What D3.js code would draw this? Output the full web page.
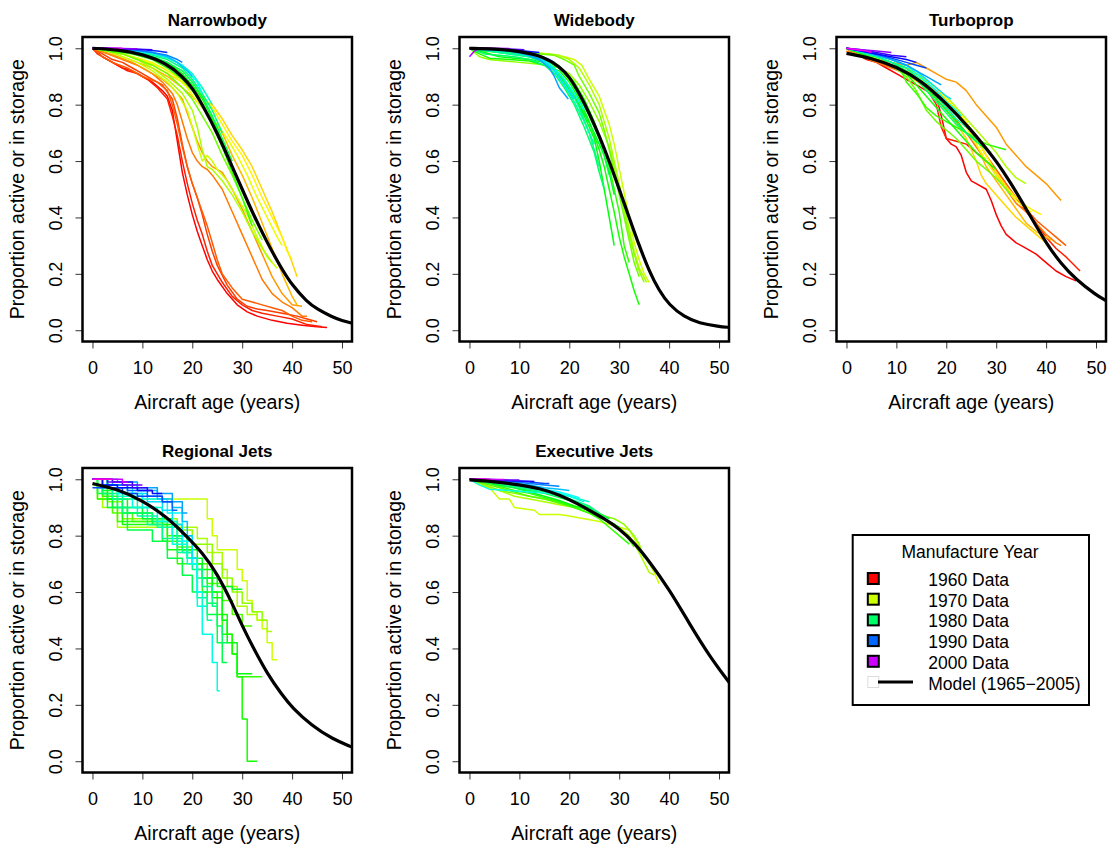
<!DOCTYPE html>
<html>
<head>
<meta charset="utf-8">
<script src="https://cdnjs.cloudflare.com/ajax/libs/d3/7.8.5/d3.min.js"></script>
<style>
	body { margin: 0; background: #fff; }
	svg text { font-family: "Liberation Sans", Arial, Helvetica, sans-serif; fill: #000; }
</style>
</head>
<body>
<svg id="chart" width="1108" height="846"></svg>
<script>
"use strict";

/////////////////////////////////////////////////////////////
// data: [age in years, proportion still active]
var x_ticks = [0, 10, 20, 30, 40, 50];
var y_ticks = [0, 0.2, 0.4, 0.6, 0.8, 1.0];
var panel_titles = ["Narrowbody", "Widebody", "Turboprop", "Regional Jets", "Executive Jets"];
var legend_years = [1960, 1970, 1980, 1990, 2000];
var legend_labels = ["1960 Data", "1970 Data", "1980 Data", "1990 Data", "2000 Data", "Model (1965\u22122005)"];

var narrowbody_curves = [
	{year: 1960, pts: [[0,1],[2,0.97],[4,0.95],[6,0.93],[8,0.92],[10,0.9],[12,0.88],[14,0.85],[15,0.83],[16,0.78],[17,0.67],[18,0.56],[19,0.48],[20,0.41],[21,0.35],[22,0.3],[23,0.25],[24,0.21],[25,0.18],[27,0.13],[29,0.09],[31,0.065],[33,0.05],[36,0.035],[39,0.025],[42,0.018],[45,0.012],[47,0.01]]},
	{year: 1961, pts: [[0,1],[1,0.98],[3,0.96],[5,0.94],[7,0.92],[9,0.91],[11,0.89],[13,0.86],[15,0.82],[16,0.76],[17,0.69],[18,0.6],[19,0.52],[20,0.45],[21,0.39],[22,0.34],[23,0.28],[24,0.23],[26,0.17],[28,0.12],[30,0.09],[32,0.07],[34,0.06],[37,0.05],[40,0.04],[43,0.02],[46,0.012]]},
	{year: 1962, pts: [[0,1],[2,0.98],[4,0.96],[6,0.95],[8,0.93],[10,0.91],[12,0.89],[14,0.87],[16,0.82],[17,0.75],[18,0.66],[19,0.58],[20,0.52],[21,0.47],[22,0.41],[23,0.34],[24,0.28],[25,0.23],[27,0.16],[29,0.11],[31,0.085],[33,0.075],[35,0.07],[38,0.06],[41,0.05],[43,0.04],[45,0.03]]},
	{year: 1963, pts: [[0,1],[2,0.97],[4,0.95],[7,0.93],[10,0.9],[13,0.88],[15,0.85],[16,0.8],[17,0.73],[18,0.65],[19,0.58],[20,0.52],[21,0.47],[22,0.42],[23,0.37],[24,0.31],[25,0.25],[26,0.2],[28,0.15],[30,0.11],[32,0.1],[34,0.09],[36,0.08],[38,0.07],[40,0.05],[42,0.035],[44,0.03]]},
	{year: 1964, pts: [[0,1],[3,0.98],[6,0.96],[9,0.94],[12,0.91],[14,0.88],[16,0.84],[17,0.8],[18,0.74],[19,0.68],[20,0.63],[21,0.6],[22,0.58],[23,0.57],[24,0.55],[26,0.5],[28,0.42],[30,0.34],[32,0.26],[34,0.18],[36,0.13],[38,0.1],[40,0.08],[42,0.05],[43,0.05]]},
	{year: 1965, pts: [[0,1],[2,0.99],[5,0.97],[8,0.95],[11,0.92],[14,0.89],[16,0.86],[18,0.82],[19,0.77],[20,0.72],[21,0.67],[22,0.63],[23,0.6],[24,0.58],[26,0.56],[28,0.5],[30,0.43],[32,0.35],[34,0.27],[36,0.19],[38,0.13],[40,0.09],[42,0.085]]},
	{year: 1966, pts: [[0,1],[3,0.99],[6,0.97],[9,0.95],[12,0.93],[15,0.9],[18,0.86],[20,0.83],[22,0.79],[24,0.75],[26,0.7],[28,0.62],[30,0.55],[32,0.47],[34,0.38],[36,0.29],[38,0.2],[40,0.12],[41,0.09]]},
	{year: 1967, pts: [[0,1],[3,0.99],[6,0.98],[9,0.96],[12,0.94],[15,0.91],[18,0.88],[20,0.85],[22,0.82],[24,0.8],[26,0.75],[28,0.69],[30,0.64],[32,0.58],[34,0.5],[36,0.42],[38,0.33],[40,0.24],[41,0.19]]},
	{year: 1968, pts: [[0,1],[3,0.99],[6,0.98],[10,0.96],[14,0.93],[17,0.9],[20,0.86],[22,0.83],[24,0.79],[26,0.73],[28,0.67],[30,0.62],[32,0.55],[34,0.47],[36,0.4],[38,0.33],[39,0.28],[40,0.25]]},
	{year: 1969, pts: [[0,1],[4,0.99],[8,0.97],[12,0.95],[16,0.91],[19,0.86],[21,0.81],[23,0.77],[25,0.73],[27,0.68],[29,0.62],[31,0.55],[33,0.47],[35,0.4],[37,0.33],[38,0.3]]},
	{year: 1970, pts: [[0,1],[3,0.99],[6,0.97],[9,0.95],[12,0.92],[15,0.88],[17,0.84],[19,0.78],[20,0.72],[21,0.66],[22,0.6],[23,0.62],[24,0.6],[25,0.57],[27,0.53],[29,0.47],[31,0.41],[33,0.33],[35,0.26],[37,0.22]]},
	{year: 1971, pts: [[0,1],[3,0.99],[6,0.98],[9,0.96],[12,0.93],[15,0.89],[18,0.84],[20,0.78],[21,0.72],[22,0.64],[23,0.58],[24,0.57],[26,0.53],[28,0.48],[30,0.42],[32,0.35],[34,0.29],[36,0.24]]},
	{year: 1973, pts: [[0,1],[3,0.99],[6,0.98],[9,0.96],[12,0.94],[15,0.91],[18,0.86],[20,0.82],[22,0.76],[24,0.7],[26,0.62],[28,0.55],[30,0.47],[32,0.39],[34,0.32]]},
	{year: 1975, pts: [[0,1],[4,0.99],[8,0.98],[12,0.96],[15,0.93],[18,0.89],[20,0.85],[22,0.8],[24,0.73],[26,0.65],[28,0.56],[30,0.47],[32,0.37]]},
	{year: 1977, pts: [[0,1],[4,0.995],[8,0.985],[12,0.97],[15,0.95],[18,0.91],[20,0.87],[22,0.82],[24,0.75],[26,0.67],[28,0.58],[30,0.5]]},
	{year: 1979, pts: [[0,1],[4,0.995],[8,0.985],[12,0.97],[15,0.95],[18,0.92],[20,0.88],[22,0.83],[24,0.76],[26,0.68],[28,0.6]]},
	{year: 1981, pts: [[0,1],[4,0.995],[8,0.99],[12,0.975],[15,0.96],[18,0.93],[20,0.89],[22,0.84],[24,0.78],[26,0.7]]},
	{year: 1983, pts: [[0,1],[4,0.998],[8,0.99],[12,0.98],[15,0.965],[18,0.94],[20,0.91],[22,0.86],[24,0.8]]},
	{year: 1985, pts: [[0,1],[4,0.998],[8,0.99],[12,0.985],[15,0.97],[17,0.95],[19,0.92],[21,0.88],[22,0.84]]},
	{year: 1987, pts: [[0,1],[4,0.998],[8,0.993],[12,0.985],[15,0.97],[17,0.95],[19,0.92],[20,0.9]]},
	{year: 1989, pts: [[0,1],[4,0.998],[8,0.995],[12,0.985],[15,0.975],[17,0.96],[18,0.95]]},
	{year: 1992, pts: [[0,1],[5,0.998],[10,0.995],[13,0.99],[15,0.985]]},
	{year: 1995, pts: [[0,1],[4,0.999],[8,0.997],[12,0.995]]},
	{year: 1998, pts: [[0,1],[4,1],[8,0.998],[9,0.998]]},
	{year: 2001, pts: [[0,1],[3,1],[6,1]]}
];
var narrowbody_model = [[0,1],[5,0.995],[10,0.98],[15,0.945],[18,0.9],[20,0.86],[22,0.8],[25,0.7],[28,0.58],[30,0.5],[32,0.42],[35,0.31],[38,0.215],[40,0.16],[43,0.1],[45,0.075],[48,0.047],[50,0.034],[52,0.025]];

var widebody_curves = [
	{year: 1970, pts: [[0,1],[4,0.995],[8,0.99],[12,0.985],[16,0.98],[19,0.97],[21,0.96],[22.5,0.94],[24,0.89],[26,0.83],[28,0.73],[29,0.66],[30.5,0.53],[32,0.4],[33,0.31],[34,0.25],[35,0.2],[36,0.17]]},
	{year: 1971, pts: [[0,1],[4,0.995],[8,0.99],[12,0.985],[16,0.98],[18,0.975],[20,0.96],[22,0.93],[24,0.87],[26,0.8],[27,0.74],[28,0.68],[29,0.6],[30,0.52],[31,0.44],[32,0.36],[33,0.28],[34,0.22],[35.5,0.17]]},
	{year: 1972, pts: [[0,1],[2,0.97],[4,0.96],[7,0.955],[10,0.95],[13,0.945],[16,0.94],[18,0.93],[20,0.91],[22,0.87],[24,0.81],[26,0.74],[28,0.65],[29,0.58],[30,0.5],[31,0.42],[32,0.34],[33,0.27],[34,0.21],[35,0.17]]},
	{year: 1973, pts: [[0,1],[3,0.995],[6,0.99],[10,0.985],[14,0.98],[17,0.975],[19,0.96],[21,0.94],[22,0.9],[24,0.84],[26,0.77],[27,0.71],[28,0.64],[29,0.56],[30,0.48],[31,0.4],[32,0.32],[33,0.24],[34,0.19]]},
	{year: 1975, pts: [[0,1],[3,0.99],[6,0.985],[10,0.98],[14,0.97],[17,0.95],[19,0.92],[21,0.88],[23,0.82],[25,0.74],[27,0.64],[28,0.58],[29,0.5],[30,0.42],[31,0.3],[32,0.24]]},
	{year: 1976, pts: [[0,1],[2,0.98],[4,0.965],[8,0.96],[12,0.955],[15,0.94],[18,0.92],[20,0.88],[22,0.82],[24,0.74],[26,0.64],[27,0.58],[28,0.5],[29,0.42],[30,0.33],[31,0.26],[32,0.2],[33,0.14],[34,0.09]]},
	{year: 1977, pts: [[0,1],[3,0.985],[6,0.97],[9,0.965],[12,0.96],[15,0.95],[17,0.93],[19,0.88],[21,0.83],[23,0.76],[25,0.68],[26,0.6],[27,0.5],[28,0.4],[29,0.3]]},
	{year: 1978, pts: [[0,1],[4,0.99],[8,0.98],[12,0.97],[15,0.95],[17,0.92],[19,0.88],[21,0.83],[23,0.77],[25,0.7],[27,0.62],[28,0.56],[29,0.48]]},
	{year: 1979, pts: [[0,1],[4,0.99],[8,0.985],[12,0.975],[15,0.96],[18,0.93],[20,0.89],[22,0.83],[24,0.76],[26,0.68],[27,0.62],[28,0.55]]},
	{year: 1980, pts: [[0,1],[3,0.98],[6,0.975],[9,0.97],[12,0.96],[15,0.94],[17,0.91],[19,0.86],[21,0.8],[23,0.72],[25,0.63],[26,0.56],[27,0.5]]},
	{year: 1981, pts: [[0,1],[4,0.99],[8,0.985],[12,0.97],[15,0.95],[18,0.91],[20,0.86],[22,0.79],[24,0.7],[25,0.64],[26,0.58]]},
	{year: 1982, pts: [[0,1],[4,0.99],[8,0.98],[12,0.97],[15,0.95],[17,0.92],[19,0.87],[21,0.81],[23,0.74],[25,0.66]]},
	{year: 1984, pts: [[0,1],[4,0.995],[8,0.99],[12,0.975],[15,0.96],[17,0.93],[19,0.89],[21,0.84],[23,0.78]]},
	{year: 1986, pts: [[0,1],[4,0.995],[8,0.99],[12,0.975],[15,0.955],[17,0.92],[19,0.87],[21,0.82]]},
	{year: 1988, pts: [[0,1],[4,0.995],[8,0.99],[11,0.98],[14,0.96],[16,0.93],[17,0.9],[18,0.86],[19.8,0.82]]},
	{year: 1990, pts: [[0,1],[4,0.998],[8,0.995],[12,0.985],[14,0.975],[16,0.96],[17,0.95]]},
	{year: 1993, pts: [[0,1],[4,0.998],[8,0.995],[11,0.99],[14,0.985]]},
	{year: 1996, pts: [[0,1],[4,0.999],[8,0.997],[11,0.995]]},
	{year: 1999, pts: [[0,0.97],[1,0.99],[2,1],[5,1],[8,0.999]]},
	{year: 2002, pts: [[0,1],[3,1],[5,0.998]]}
];
var widebody_model = [[0,1],[5,0.998],[10,0.99],[15,0.97],[18,0.935],[20,0.9],[22,0.84],[24,0.77],[26,0.69],[28,0.6],[30,0.5],[32,0.4],[34,0.3],[36,0.21],[38,0.14],[40,0.09],[43,0.047],[46,0.025],[50,0.013],[52,0.01]];

var turboprop_curves = [
	{year: 1960, pts: [[0,1],[2,0.98],[4,0.96],[6,0.95],[8,0.93],[10,0.91],[12,0.89],[14,0.87],[16,0.85],[18,0.83],[19,0.76],[20,0.68],[21,0.66],[22,0.65],[23,0.62],[24,0.56],[25,0.53],[26,0.52],[28,0.5],[29,0.46],[30,0.41],[31,0.37],[32,0.34],[34,0.31],[36,0.29],[38,0.27],[40,0.24],[42,0.21],[44,0.19],[46,0.175]]},
	{year: 1961, pts: [[0,1],[2,0.98],[5,0.96],[8,0.94],[11,0.92],[14,0.89],[16,0.86],[18,0.8],[19,0.72],[20,0.68],[22,0.67],[24,0.66],[26,0.63],[28,0.6],[30,0.56],[32,0.51],[34,0.47],[36,0.42],[38,0.38],[40,0.33],[42,0.29],[44,0.26],[46.8,0.21]]},
	{year: 1963, pts: [[0,0.99],[3,0.97],[6,0.96],[9,0.94],[12,0.92],[15,0.89],[18,0.84],[21,0.79],[24,0.73],[26,0.68],[28,0.62],[30,0.57],[32,0.52],[34,0.47],[36,0.43],[38,0.39],[40,0.36],[42,0.33],[44,0.3]]},
	{year: 1964, pts: [[0,1],[3,0.97],[6,0.95],[9,0.93],[12,0.91],[15,0.88],[18,0.83],[21,0.77],[24,0.7],[26,0.65],[28,0.6],[30,0.55],[32,0.5],[34,0.45],[36,0.42],[38,0.38],[40,0.34],[42,0.31],[43,0.3]]},
	{year: 1965, pts: [[0,0.99],[3,0.97],[6,0.96],[9,0.95],[12,0.94],[14,0.95],[16,0.93],[18,0.91],[20,0.89],[22,0.88],[24,0.85],[26,0.8],[28,0.76],[30,0.72],[32,0.66],[34,0.62],[36,0.58],[38,0.55],[40,0.52],[42,0.48],[43,0.46]]},
	{year: 1966, pts: [[0,1],[3,0.98],[6,0.96],[9,0.94],[12,0.92],[15,0.89],[18,0.85],[21,0.8],[24,0.73],[26,0.66],[28,0.58],[30,0.53],[32,0.48],[34,0.43],[36,0.38],[38,0.35],[40,0.33],[41,0.32]]},
	{year: 1967, pts: [[0,1],[3,0.98],[6,0.96],[9,0.94],[12,0.91],[15,0.87],[18,0.82],[21,0.76],[24,0.68],[26,0.6],[27,0.55],[28,0.52],[30,0.48],[32,0.44],[34,0.4],[36,0.37],[38,0.34],[40,0.31]]},
	{year: 1968, pts: [[0,1],[3,0.98],[6,0.965],[9,0.95],[12,0.93],[15,0.9],[18,0.86],[21,0.8],[24,0.74],[26,0.68],[28,0.62],[30,0.56],[32,0.51],[34,0.47],[36,0.44],[38,0.42],[39,0.41]]},
	{year: 1969, pts: [[0,1],[3,0.98],[6,0.96],[9,0.94],[12,0.92],[15,0.89],[18,0.84],[21,0.79],[24,0.72],[26,0.66],[28,0.6],[30,0.55],[32,0.5],[34,0.46],[36,0.43],[37,0.42]]},
	{year: 1971, pts: [[0,1],[3,0.98],[6,0.97],[9,0.95],[12,0.93],[15,0.9],[18,0.86],[20,0.83],[22,0.79],[24,0.75],[26,0.71],[28,0.67],[30,0.63],[32,0.58],[34,0.54],[36,0.52]]},
	{year: 1973, pts: [[0,1],[3,0.98],[6,0.96],[9,0.94],[12,0.9],[14,0.85],[16,0.78],[18,0.74],[20,0.71],[22,0.68],[24,0.64],[26,0.6],[28,0.57],[30,0.54],[32,0.5],[33,0.48]]},
	{year: 1975, pts: [[0,1],[3,0.98],[6,0.96],[9,0.94],[11,0.92],[12,0.88],[14,0.84],[16,0.79],[18,0.76],[20,0.74],[22,0.72],[24,0.7],[26,0.68],[28,0.66],[30,0.65],[32,0.64]]},
	{year: 1976, pts: [[0,1],[3,0.98],[6,0.96],[9,0.94],[12,0.91],[14,0.87],[16,0.83],[18,0.79],[20,0.75],[22,0.71],[24,0.67],[26,0.63],[28,0.6],[30,0.57]]},
	{year: 1978, pts: [[0,1],[3,0.985],[6,0.97],[9,0.95],[12,0.93],[14,0.9],[16,0.86],[18,0.82],[20,0.78],[22,0.74],[24,0.7],[26,0.67],[28,0.64],[29,0.63]]},
	{year: 1980, pts: [[0,1],[3,0.985],[6,0.97],[9,0.95],[12,0.92],[14,0.89],[16,0.85],[18,0.81],[20,0.77],[22,0.73],[24,0.7],[26,0.67],[27,0.66]]},
	{year: 1982, pts: [[0,1],[3,0.985],[6,0.97],[9,0.95],[12,0.93],[14,0.9],[16,0.87],[18,0.83],[20,0.79],[22,0.75],[24,0.72],[25,0.71]]},
	{year: 1984, pts: [[0,1],[3,0.99],[6,0.975],[9,0.96],[12,0.94],[14,0.91],[16,0.88],[18,0.85],[20,0.81],[22,0.78],[23,0.76]]},
	{year: 1986, pts: [[0,1],[3,0.99],[6,0.98],[9,0.96],[12,0.94],[14,0.92],[16,0.89],[18,0.86],[20,0.83],[21,0.82]]},
	{year: 1988, pts: [[0,1],[3,0.99],[6,0.975],[9,0.96],[12,0.94],[14,0.92],[16,0.9],[18,0.88],[19,0.87]]},
	{year: 1991, pts: [[0,1],[3,0.99],[6,0.98],[9,0.965],[12,0.95],[14,0.94],[16,0.93]]},
	{year: 1993, pts: [[0,1],[3,0.99],[6,0.98],[9,0.97],[12,0.96],[14,0.95]]},
	{year: 1995, pts: [[0,1],[3,0.995],[6,0.985],[9,0.975],[12,0.97]]},
	{year: 1998, pts: [[0,1],[3,0.995],[6,0.99],[9,0.985]]},
	{year: 2002, pts: [[0,1],[2,0.995],[4,0.99],[5,0.985]]}
];
var turboprop_model = [[0,0.982],[5,0.965],[10,0.935],[15,0.885],[20,0.805],[25,0.71],[28,0.645],[30,0.6],[33,0.52],[35,0.46],[38,0.37],[40,0.31],[43,0.235],[46,0.18],[50,0.125],[52,0.105]];

// regional jet fleets are small, so these are step curves
var regional_curves = [
	{year: 1970, pts: [[0,1],[1,0.93],[23,0.86],[24,0.8],[25,0.75],[29,0.68],[30,0.64],[31,0.57],[32,0.53],[33,0.5],[34,0.47],[35,0.42],[36,0.36],[37,0.36]]},
	{year: 1971, pts: [[0,1],[2,0.9],[5,0.83],[21,0.79],[23,0.74],[26,0.68],[27,0.62],[29,0.55],[31,0.52],[33,0.5],[35,0.46],[36,0.46]]},
	{year: 1972, pts: [[0,0.98],[3,0.92],[6,0.86],[17,0.82],[20,0.77],[24,0.7],[26,0.65],[28,0.6],[30,0.56],[32,0.53],[34,0.5],[35,0.5]]},
	{year: 1974, pts: [[0,1],[2,0.95],[4,0.88],[8,0.85],[15,0.8],[17,0.76],[20,0.7],[23,0.63],[26,0.57],[28,0.52],[30,0.48],[32,0.48]]},
	{year: 1975, pts: [[0,1],[2,0.94],[5,0.85],[14,0.78],[17,0.7],[22,0.6],[25,0.52],[26,0.45],[28,0.38],[29,0.3],[34,0.3]]},
	{year: 1976, pts: [[0,1],[1,0.93],[6,0.84],[15,0.75],[20,0.7],[22,0.65],[24,0.58],[26,0.52],[27,0.45],[28,0.38],[29,0.3],[30,0.15],[31,0],[33,0]]},
	{year: 1977, pts: [[0,1],[3,0.93],[7,0.88],[12,0.84],[18,0.75],[21,0.68],[24,0.6],[26,0.5],[27,0.42],[29,0.31],[32,0.31]]},
	{year: 1978, pts: [[0,1],[2,0.96],[4,0.9],[10,0.86],[16,0.8],[19,0.72],[22,0.65],[25,0.62],[28,0.61],[30,0.61]]},
	{year: 1979, pts: [[0,1],[1,0.95],[3,0.9],[7,0.82],[12,0.78],[15,0.72],[18,0.66],[20,0.6],[23,0.52],[25,0.42],[26,0.35],[27,0.35]]},
	{year: 1980, pts: [[0,1],[2,0.95],[6,0.88],[12,0.85],[17,0.8],[19,0.72],[21,0.65],[23,0.56],[25,0.48],[26,0.42],[27,0.42]]},
	{year: 1981, pts: [[0,1],[3,0.97],[5,0.9],[11,0.84],[14,0.79],[18,0.74],[20,0.68],[22,0.62],[24,0.55],[25,0.55]]},
	{year: 1982, pts: [[0,1],[1,0.97],[4,0.93],[9,0.87],[13,0.83],[17,0.74],[20,0.7],[21,0.58],[23,0.5],[24,0.5]]},
	{year: 1983, pts: [[0,1],[2,0.97],[5,0.94],[10,0.9],[14,0.85],[17,0.78],[19,0.72],[21,0.6],[22,0.55],[23,0.55]]},
	{year: 1984, pts: [[0,1],[3,0.97],[8,0.9],[13,0.85],[16,0.77],[19,0.7],[21,0.55],[22,0.45],[24,0.35],[25,0.25],[25.5,0.25]]},
	{year: 1985, pts: [[0,1],[2,0.98],[5,0.95],[10,0.93],[15,0.88],[18,0.78],[20,0.7],[21,0.6],[22,0.6]]},
	{year: 1986, pts: [[0,1],[3,0.98],[7,0.95],[11,0.92],[14,0.89],[16,0.84],[18,0.8],[20,0.72],[21,0.72]]},
	{year: 1987, pts: [[0,1],[4,0.98],[9,0.96],[13,0.93],[16,0.9],[18,0.85],[19,0.8],[20,0.8]]},
	{year: 1988, pts: [[0,1],[5,0.99],[9,0.97],[13,0.95],[16,0.92],[18,0.88],[19,0.88]]},
	{year: 1990, pts: [[0,1],[3,0.98],[7,0.96],[11,0.94],[14,0.92],[16,0.89],[17,0.89]]},
	{year: 1991, pts: [[0,0.97],[3,0.97],[6,0.95],[9,0.94],[12,0.94],[14,0.92],[16,0.92]]},
	{year: 1993, pts: [[0,1],[2,0.98],[5,0.97],[9,0.96],[12,0.95],[14,0.95]]},
	{year: 1995, pts: [[0,1],[4,0.99],[8,0.97],[11,0.96],[12,0.96]]},
	{year: 1997, pts: [[0,1],[3,0.99],[6,0.98],[9,0.98],[10,0.98]]},
	{year: 2000, pts: [[0,1],[3,1],[6,0.99],[7,0.99]]},
	{year: 2003, pts: [[0,1],[2,1],[4,1]]}
];
var regional_model = [[0,0.985],[5,0.965],[10,0.925],[15,0.865],[19,0.795],[22,0.74],[25,0.665],[28,0.56],[30,0.48],[32,0.41],[35,0.31],[38,0.235],[40,0.19],[44,0.125],[48,0.08],[52,0.05]];

var executive_curves = [
	{year: 1970, pts: [[0,1],[2,0.98],[4,0.97],[5,0.95],[6,0.93],[8,0.93],[9,0.9],[13,0.89],[14,0.875],[18,0.875],[20,0.87],[23,0.86],[26,0.85],[28,0.84],[30,0.83],[32,0.82],[33,0.79],[35,0.73],[37,0.67],[38,0.63]]},
	{year: 1971, pts: [[0,1],[3,0.98],[6,0.96],[9,0.94],[12,0.93],[15,0.92],[18,0.91],[21,0.9],[24,0.88],[27,0.86],[30,0.83],[32,0.8],[34,0.74],[36,0.67],[37,0.66]]},
	{year: 1972, pts: [[0,1],[3,0.98],[6,0.96],[9,0.95],[12,0.94],[15,0.93],[18,0.92],[21,0.905],[24,0.89],[27,0.87],[29,0.86],[31,0.84],[32,0.82],[33,0.8],[34,0.77],[35,0.72]]},
	{year: 1974, pts: [[0,1],[3,0.985],[6,0.97],[9,0.955],[12,0.94],[15,0.93],[18,0.915],[21,0.9],[24,0.88],[27,0.86],[29,0.84],[31,0.81],[33,0.76]]},
	{year: 1975, pts: [[0,1],[3,0.99],[6,0.975],[9,0.96],[12,0.95],[15,0.935],[18,0.92],[21,0.9],[24,0.88],[26,0.86],[28,0.83],[30,0.8],[32,0.77]]},
	{year: 1977, pts: [[0,1],[3,0.99],[6,0.98],[9,0.97],[12,0.955],[15,0.94],[18,0.925],[21,0.905],[24,0.89],[26,0.87],[28,0.85],[30,0.83]]},
	{year: 1979, pts: [[0,1],[3,0.99],[6,0.98],[9,0.97],[12,0.96],[15,0.95],[18,0.935],[21,0.92],[24,0.9],[26,0.88],[28,0.86]]},
	{year: 1981, pts: [[0,1],[3,0.995],[6,0.985],[9,0.975],[12,0.965],[15,0.955],[18,0.94],[21,0.925],[24,0.905],[26,0.88]]},
	{year: 1983, pts: [[0,1],[3,0.995],[6,0.99],[9,0.98],[12,0.97],[15,0.96],[18,0.95],[21,0.935],[24,0.92]]},
	{year: 1984, pts: [[0,1],[2,0.98],[4,0.965],[8,0.96],[12,0.955],[16,0.95],[20,0.94],[23,0.92]]},
	{year: 1985, pts: [[0,1],[3,0.995],[6,0.99],[9,0.985],[12,0.975],[15,0.965],[18,0.955],[20,0.945],[22,0.935]]},
	{year: 1987, pts: [[0,1],[3,0.998],[6,0.99],[9,0.985],[12,0.98],[15,0.97],[18,0.965],[20,0.96]]},
	{year: 1989, pts: [[0,1],[3,0.998],[6,0.995],[9,0.99],[12,0.985],[15,0.98],[18,0.975]]},
	{year: 1991, pts: [[0,1],[3,0.998],[6,0.996],[9,0.993],[12,0.99],[15,0.985],[16,0.985]]},
	{year: 1994, pts: [[0,1],[3,0.999],[6,0.997],[9,0.995],[12,0.993],[13,0.992]]},
	{year: 1997, pts: [[0,1],[3,1],[6,0.998],[9,0.997],[10,0.997]]},
	{year: 2000, pts: [[0,1],[3,1],[5,0.999],[7,0.999]]},
	{year: 2003, pts: [[0,1],[2,1],[4,1]]}
];
var executive_model = [[0,0.998],[5,0.992],[10,0.98],[14,0.968],[18,0.945],[22,0.91],[24,0.89],[27,0.86],[30,0.825],[33,0.775],[36,0.71],[40,0.61],[44,0.49],[48,0.375],[52,0.28]];

/////////////////////////////////////////////////////////////
// layout (pixels)
var plot_left = 82.5;
var panel_dx = 377;
var plot_w = 269.5;
var plot_h = 304.5;
var row_top = [37, 468];

var panels = [
	{curves: narrowbody_curves, model: narrowbody_model, step: false},
	{curves: widebody_curves, model: widebody_model, step: false},
	{curves: turboprop_curves, model: turboprop_model, step: false},
	{curves: regional_curves, model: regional_model, step: true},
	{curves: executive_curves, model: executive_model, step: false}
];

var svg = d3.select("#chart");
svg.append("rect").attr("width", 1108).attr("height", 846).attr("fill", "#fff");
var defs = svg.append("defs");

// rainbow colour by manufacture year (1960 red ... 2000 purple)
function year_color(year){
	return d3.hsl((year - 1960) * 7.2, 1, 0.5).formatHex();
}

function draw_panel(p, i){
	var col = i % 3;
	var row = Math.floor(i / 3);
	var left = plot_left + col * panel_dx;
	var top = row_top[row];

	var x = d3.scaleLinear().domain([-2, 52]).range([left, left + plot_w]);
	var y = d3.scaleLinear().domain([-0.04, 1.04]).range([top + plot_h, top]);

	defs.append("clipPath").attr("id", "clip" + i)
		.append("rect").attr("x", left).attr("y", top)
		.attr("width", plot_w).attr("height", plot_h);

	var line = d3.line()
		.x(function(d){ return x(d[0]); })
		.y(function(d){ return y(d[1]); })
		.curve(p.step ? d3.curveStepAfter : d3.curveLinear);

	// the fitted model is a smooth curve
	var model_line = d3.line()
		.x(function(d){ return x(d[0]); })
		.y(function(d){ return y(d[1]); })
		.curve(d3.curveBasis);

	var g = svg.append("g").attr("clip-path", "url(#clip" + i + ")");

	g.selectAll("path.curve").data(p.curves).join("path")
		.attr("class", "curve")
		.attr("d", function(d){ return line(d.pts); })
		.attr("fill", "none")
		.attr("stroke", function(d){ return year_color(d.year); })
		.attr("stroke-width", 1.5)
		.attr("stroke-linejoin", "round");

	g.append("path")
		.attr("d", model_line(p.model))
		.attr("fill", "none")
		.attr("stroke", "#000")
		.attr("stroke-width", 3.2);

	// x axis
	var xa = svg.append("g")
		.attr("transform", "translate(0," + (top + plot_h) + ")")
		.call(d3.axisBottom(x).tickValues(x_ticks).tickSize(7).tickPadding(12.7));
	xa.select(".domain").remove();
	xa.selectAll(".tick line").attr("stroke", "#333");
	xa.selectAll("text").attr("font-size", 18).attr("font-family", null);

	// y axis, labels parallel to the axis as in R
	var ya = svg.append("g")
		.attr("transform", "translate(" + left + ",0)")
		.call(d3.axisLeft(y).tickValues(y_ticks).tickSize(7).tickFormat(d3.format(".1f")));
	ya.select(".domain").remove();
	ya.selectAll(".tick line").attr("stroke", "#333");
	ya.selectAll("text")
		.attr("font-size", 18).attr("font-family", null)
		.attr("x", 0).attr("y", -20.8).attr("dy", null)
		.attr("text-anchor", "middle")
		.attr("transform", "rotate(-90)");

	// box
	svg.append("rect")
		.attr("x", left).attr("y", top)
		.attr("width", plot_w).attr("height", plot_h)
		.attr("fill", "none").attr("stroke", "#000").attr("stroke-width", 2.5);

	svg.append("text")
		.attr("x", left + plot_w / 2).attr("y", top - 11.3)
		.attr("text-anchor", "middle")
		.attr("font-size", 17).attr("font-weight", "bold")
		.text(panel_titles[i]);

	svg.append("text")
		.attr("x", x(25)).attr("y", top + plot_h + 67.8)
		.attr("text-anchor", "middle").attr("font-size", 19.5)
		.text("Aircraft age (years)");

	svg.append("text")
		.attr("transform", "translate(" + (left - 58.2) + "," + (top + plot_h / 2) + ") rotate(-90)")
		.attr("text-anchor", "middle").attr("font-size", 19.5)
		.text("Proportion active or in storage");
}

panels.forEach(draw_panel);

/////////////////////////////////////////////////////////////
// legend
var leg = svg.append("g");
leg.append("rect")
	.attr("x", 852.7).attr("y", 535).attr("width", 236.3).attr("height", 170)
	.attr("fill", "#fff").attr("stroke", "#000").attr("stroke-width", 2);
leg.append("text")
	.attr("x", 970).attr("y", 558).attr("text-anchor", "middle").attr("font-size", 17.5)
	.text("Manufacture Year");

var row_y = function(k){ return 586 + k * 20.7; };

leg.selectAll("rect.swatch").data(legend_years).join("rect")
	.attr("class", "swatch")
	.attr("x", 867.8).attr("y", function(d, k){ return row_y(k) - 13; })
	.attr("width", 11).attr("height", 11)
	.attr("fill", year_color)
	.attr("stroke", "#000").attr("stroke-width", 2);

leg.append("rect")
	.attr("x", 867.8).attr("y", row_y(5) - 13).attr("width", 11).attr("height", 11)
	.attr("fill", "#fff").attr("stroke", "#ddd").attr("stroke-width", 1);
leg.append("line")
	.attr("x1", 878).attr("x2", 913).attr("y1", row_y(5) - 7.5).attr("y2", row_y(5) - 7.5)
	.attr("stroke", "#000").attr("stroke-width", 3);

leg.selectAll("text.lab").data(legend_labels).join("text")
	.attr("class", "lab")
	.attr("x", 928.3).attr("y", function(d, k){ return row_y(k); })
	.attr("font-size", 17.5)
	.text(function(d){ return d; });
</script>
</body>
</html>
